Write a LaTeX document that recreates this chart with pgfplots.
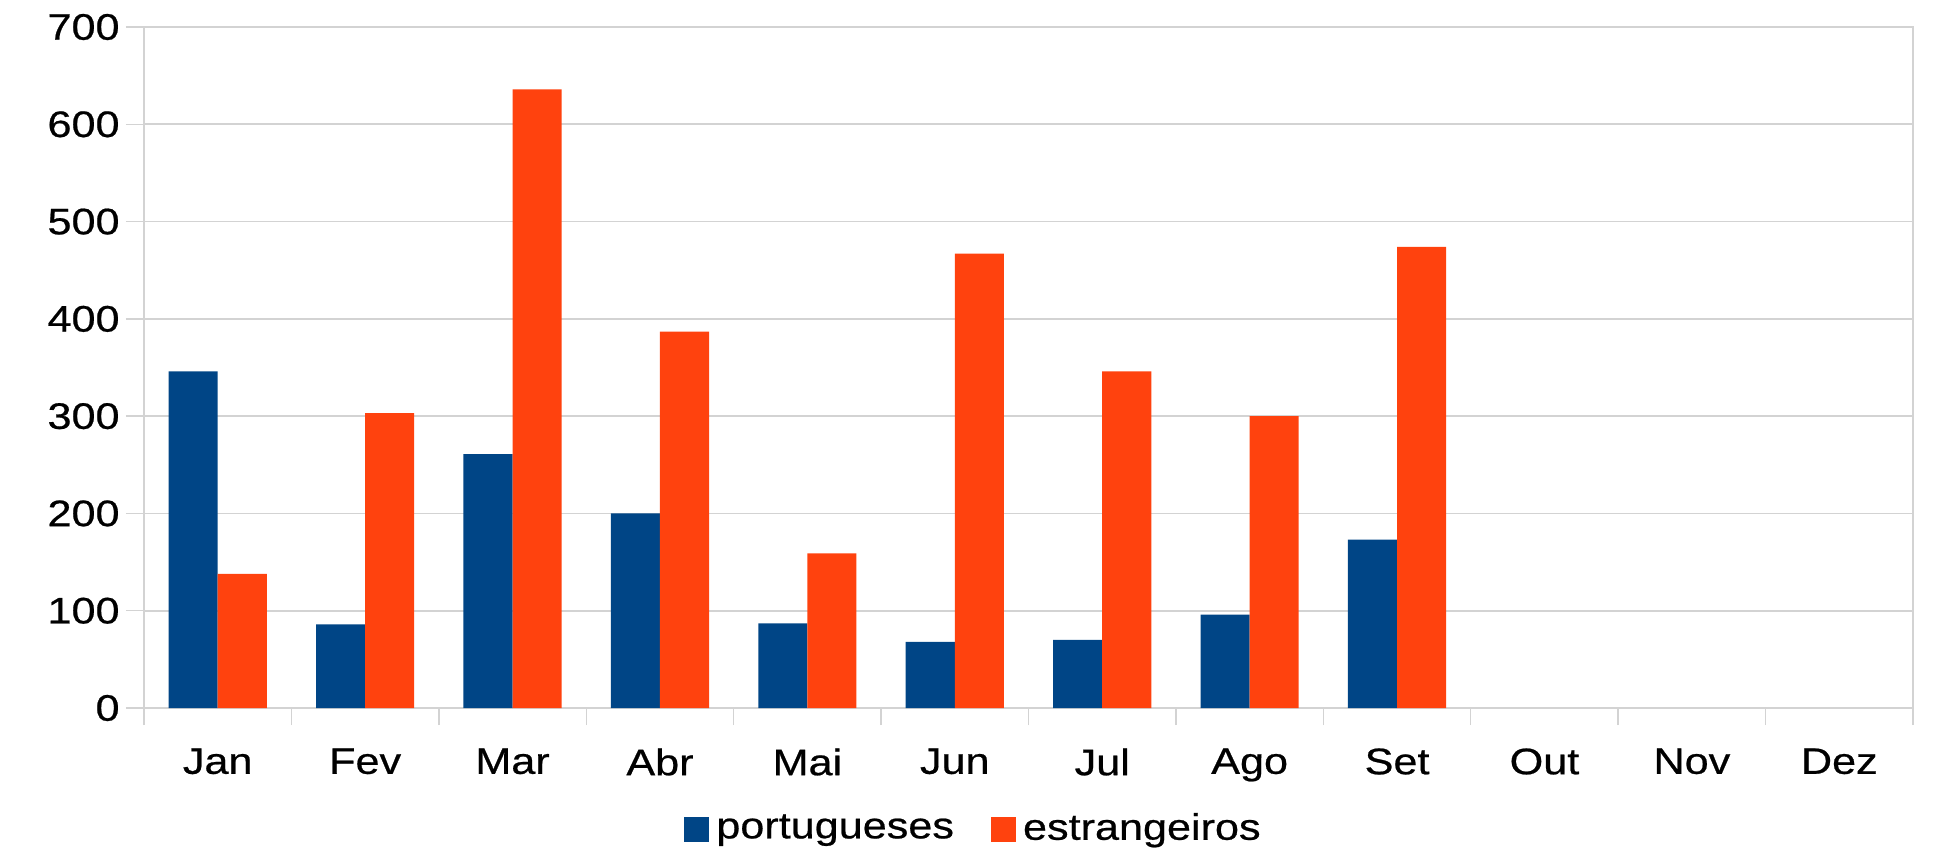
\documentclass[border=0pt]{standalone}
\usepackage{pgfplots}
\pgfplotsset{compat=1.18}
\usepackage{fontspec}
\setmainfont{Liberation Sans}[FakeStretch=1.17,FakeBold=0.6]
\definecolor{lblue}{HTML}{004586}
\definecolor{lorange}{HTML}{FF420E}
\definecolor{lgrid}{HTML}{D3D3D3}
\begin{document}
\begin{tikzpicture}
\begin{axis}[
  at={(0,0)}, anchor=south west,
  scale only axis,
  width=176.9mm, height=68.1mm,
  font=\fontsize{10.5}{12}\selectfont,
  /pgf/number format/assume math mode=true,
  ybar=0pt, bar width=4.91mm,
  xmin=-0.5, xmax=11.5, ymin=0, ymax=700,
  ytick={0,100,...,700},
  xtick={0,...,11},
  xticklabels={Jan,Fev,Mar,Abr,Mai,Jun,Jul,Ago,Set,Out,Nov,Dez},
  minor xtick={-0.5,0.5,...,11.5},
  major x tick style={draw=none},
  tick align=outside,
  tick pos=left,
  major tick length=1.8mm,
  minor tick length=1.7mm,
  tick style={lgrid, line width=0.4pt},
  axis line style={lgrid, line width=0.5pt},
  ymajorgrids, grid style={lgrid, line width=0.5pt},
  xticklabel style={yshift=-1.0mm},
  yticklabel style={xshift=0.6mm},
  legend columns=2,
  legend style={draw=none, fill=none, at={(0.4703,-0.1777)}, anchor=center,
    /tikz/every even column/.append style={column sep=3.0mm},
    font=\fontsize{10.5}{12}\selectfont},
  legend image code/.code={\fill[#1,draw=none] (0mm,-1.25mm) rectangle (2.5mm,1.25mm);},
  legend cell align=left,
]
\addplot[fill=lblue, draw=none] coordinates {(0,346) (1,86) (2,261) (3,200) (4,87) (5,68) (6,70) (7,96) (8,173)};
\addplot[fill=lorange, draw=none] coordinates {(0,138) (1,303) (2,636) (3,387) (4,159) (5,467) (6,346) (7,300) (8,474)};
\legend{portugueses, estrangeiros}
\end{axis}
\pgfresetboundingbox
\path[use as bounding box] (-14.4mm,-14.8mm) rectangle (179.1mm,70.8mm);
\end{tikzpicture}
\end{document}
